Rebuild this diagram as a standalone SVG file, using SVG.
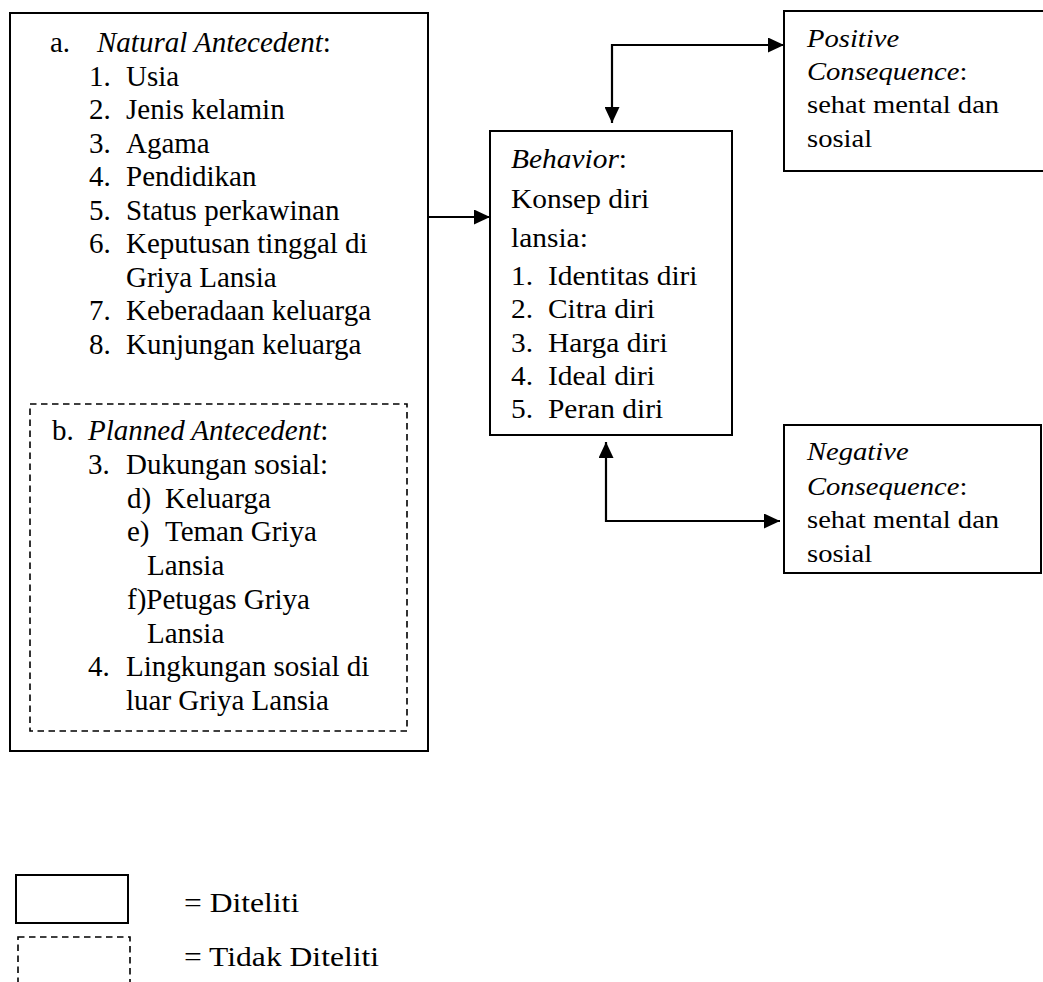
<svg xmlns="http://www.w3.org/2000/svg" width="1043" height="982" viewBox="0 0 1043 982">
<defs>
<style>
.box{fill:#fff;stroke:#000;stroke-width:2}
.dash{fill:none;stroke:#000;stroke-width:1.6;stroke-dasharray:6.5 4.5}
.t{font-family:'Liberation Serif','Times New Roman',Times,serif;fill:#000}
.big{font-size:29px}
.mid{font-size:27px}
.sm{font-size:26px}
.i{font-style:italic}
.ln{fill:none;stroke:#000;stroke-width:2.2}
</style>
<marker id="ah" viewBox="0 0 16 15" refX="16" refY="7.5" markerWidth="16" markerHeight="15" markerUnits="userSpaceOnUse" orient="auto-start-reverse">
<path d="M0,0 L16,7.5 L0,15 Z" fill="#000"/>
</marker>
</defs>
<rect width="1043" height="982" fill="#fff"/>

<g id="antecedent">
<rect class="box" x="10" y="13" width="418" height="738"/>
<g class="t big">
<text x="50" y="52">a.</text>
<text x="97" y="52"><tspan class="i">Natural Antecedent</tspan>:</text>
<text x="89" y="85.5">1.</text><text x="126" y="85.5">Usia</text>
<text x="89" y="119">2.</text><text x="126" y="119">Jenis kelamin</text>
<text x="89" y="152.5">3.</text><text x="126" y="152.5">Agama</text>
<text x="89" y="186">4.</text><text x="126" y="186">Pendidikan</text>
<text x="89" y="219.5">5.</text><text x="126" y="219.5">Status perkawinan</text>
<text x="89" y="253">6.</text><text x="126" y="253">Keputusan tinggal di</text>
<text x="126" y="286.5">Griya Lansia</text>
<text x="89" y="320">7.</text><text x="126" y="320">Keberadaan keluarga</text>
<text x="89" y="353.5">8.</text><text x="126" y="353.5">Kunjungan keluarga</text>
</g>
</g>

<g id="planned">
<rect class="dash" x="30" y="404" width="377" height="327"/>
<g class="t big">
<text x="52" y="440">b.</text>
<text x="88" y="440"><tspan class="i">Planned Antecedent</tspan>:</text>
<text x="88" y="473.75">3.</text><text x="126" y="473.75">Dukungan sosial:</text>
<text x="127" y="507.5">d)</text><text x="165" y="507.5">Keluarga</text>
<text x="127" y="541.25">e)</text><text x="165" y="541.25">Teman Griya</text>
<text x="147" y="575">Lansia</text>
<text x="127" y="608.75">f)Petugas Griya</text>
<text x="147" y="642.5">Lansia</text>
<text x="88" y="676.25">4.</text><text x="126" y="676.25">Lingkungan sosial di</text>
<text x="126" y="710">luar Griya Lansia</text>
</g>
</g>

<g id="behavior">
<rect class="box" x="490" y="131" width="242" height="304"/>
<g class="t mid" transform="scale(1.09 1)">
<text x="468.81" y="168"><tspan class="i">Behavior</tspan>:</text>
<text x="468.81" y="208">Konsep diri</text>
<text x="468.81" y="247">lansia:</text>
<text x="468.81" y="285">1.</text><text x="502.75" y="285">Identitas diri</text>
<text x="468.81" y="318">2.</text><text x="502.75" y="318">Citra diri</text>
<text x="468.81" y="352">3.</text><text x="502.75" y="352">Harga diri</text>
<text x="468.81" y="385">4.</text><text x="502.75" y="385">Ideal diri</text>
<text x="468.81" y="418">5.</text><text x="502.75" y="418">Peran diri</text>
</g>
</g>

<g id="positive">
<rect class="box" x="784" y="11" width="262" height="160"/>
<g class="t sm" transform="scale(1.1 1)">
<text x="733.64" y="47" class="i">Positive</text>
<text x="733.64" y="80"><tspan class="i">Consequence</tspan>:</text>
<text x="733.64" y="113">sehat mental dan</text>
<text x="733.64" y="147">sosial</text>
</g>
</g>

<g id="negative">
<rect class="box" x="784" y="425" width="257" height="148"/>
<g class="t sm" transform="scale(1.1 1)">
<text x="733.64" y="460" class="i">Negative</text>
<text x="733.64" y="495"><tspan class="i">Consequence</tspan>:</text>
<text x="733.64" y="528">sehat mental dan</text>
<text x="733.64" y="562">sosial</text>
</g>
</g>

<g id="connectors">
<path class="ln" d="M428,217 H490" marker-end="url(#ah)"/>
<path class="ln" d="M612,123 V45 H784" marker-start="url(#ah)" marker-end="url(#ah)"/>
<path class="ln" d="M606,442 V521 H780" marker-start="url(#ah)" marker-end="url(#ah)"/>
</g>

<g id="legend">
<rect class="box" x="16" y="875" width="112" height="48"/>
<rect class="dash" x="18" y="937" width="112" height="60"/>
<g class="t mid" transform="scale(1.17 1)">
<text x="157.26" y="912">= Diteliti</text>
<text x="157.26" y="966">= Tidak Diteliti</text>
</g>
</g>
</svg>
